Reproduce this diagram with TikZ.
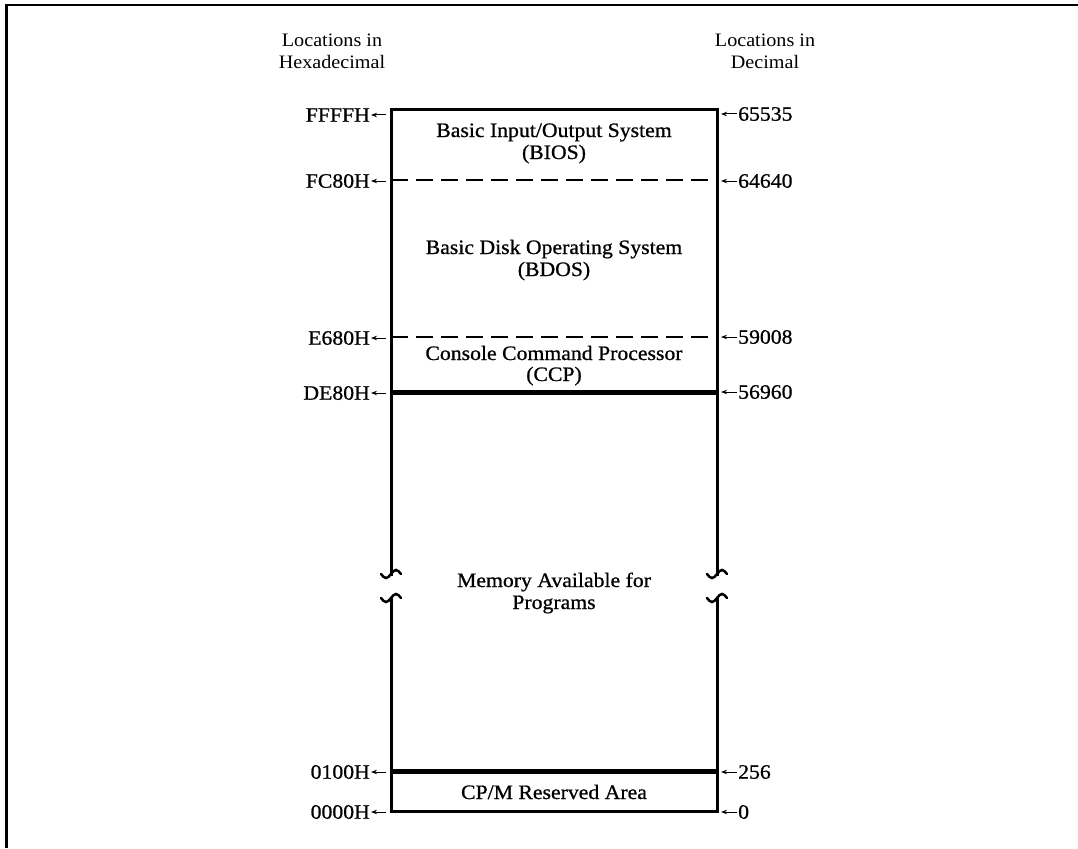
\documentclass[tikz,border=0pt]{standalone}
\usepackage{fontspec}
\setmainfont{Liberation Serif}[FakeStretch=1.06]
\newfontfamily\inkfont{Liberation Serif}[FakeStretch=1.06,FakeBold=0.8]
\usetikzlibrary{arrows.meta}
\tikzset{
  txt/.style={font=\inkfont\fontsize{20.5}{22}\selectfont, inner sep=0pt},
  hdr/.style={font=\fontsize{19}{22}\selectfont, inner sep=0pt},
  ptr/.style={-{Stealth[length=6pt,width=4.5pt]}, line width=1pt},
  frameline/.style={line width=2.5pt},
  boxline/.style={line width=3pt, line cap=rect},
  heavysep/.style={line width=5pt},
  dashsep/.style={line width=2.5pt, dash pattern=on 17pt off 8pt},
  brk/.style={line width=2.5pt, line cap=round}
}
\begin{document}
\begin{tikzpicture}[x=1pt,y=-1pt]
\useasboundingbox (0,0) rectangle (1078,848);
% frame
\draw[frameline] (6.5,848) -- (6.5,5) -- (1078,5);
% headers
\node[hdr, anchor=base] (hl1) at (332,47) {Locations in};
\node[hdr, anchor=base] (hl2) at (332,69) {Hexadecimal};
\node[hdr, anchor=base] (hr1) at (765,47) {Locations in};
\node[hdr, anchor=base] (hr2) at (765,69) {Decimal};
% box corners
\coordinate (TL) at (391,110);
\coordinate (TR) at (717,110);
\coordinate (BL) at (391,811);
\coordinate (BR) at (717,811);
\coordinate (L1) at (391,574);
\coordinate (L2) at (391,598);
\coordinate (R1) at (717,574);
\coordinate (R2) at (717,598);
% box outline
\draw[boxline] (TL) -- (TR);
\draw[boxline] (TL) -- (L1);
\draw[boxline] (L2) -- (BL) -- (BR) -- (R2);
\draw[boxline] (R1) -- (TR);
% break marks
\draw[brk] ([xshift=-10pt]L1) sin ([xshift=-5pt,yshift=-4pt]L1) cos (L1) sin ([xshift=5pt,yshift=4pt]L1) cos ([xshift=10pt]L1);
\draw[brk] ([xshift=-10pt]L2) sin ([xshift=-5pt,yshift=-4pt]L2) cos (L2) sin ([xshift=5pt,yshift=4pt]L2) cos ([xshift=10pt]L2);
\draw[brk] ([xshift=-10pt]R1) sin ([xshift=-5pt,yshift=-4pt]R1) cos (R1) sin ([xshift=5pt,yshift=4pt]R1) cos ([xshift=10pt]R1);
\draw[brk] ([xshift=-10pt]R2) sin ([xshift=-5pt,yshift=-4pt]R2) cos (R2) sin ([xshift=5pt,yshift=4pt]R2) cos ([xshift=10pt]R2);
% separators
\draw[dashsep] (391,180) -- (717,180);
\draw[dashsep] (391,337) -- (717,337);
\draw[heavysep] (391,392) -- (717,392);
\draw[heavysep] (391,771) -- (717,771);
% region texts
\node[txt, anchor=base] (bios1) at (554,137) {Basic Input/Output System};
\node[txt, anchor=base] (bios2) at (554,159) {(BIOS)};
\node[txt, anchor=base] (bdos1) at (554,254) {Basic Disk Operating System};
\node[txt, anchor=base] (bdos2) at (554,276) {(BDOS)};
\node[txt, anchor=base] (ccp1) at (554,360) {Console Command Processor};
\node[txt, anchor=base] (ccp2) at (554,381) {(CCP)};
\node[txt, anchor=base] (mem1) at (554,587) {Memory Available for};
\node[txt, anchor=base] (mem2) at (554,609) {Programs};
\node[txt, anchor=base] (res) at (554,799) {CP/M Reserved Area};
% left labels
\node[txt, anchor=east] (hFFFF) at (370,115) {FFFFH};
\node[txt, anchor=east] (hFC80) at (370,181) {FC80H};
\node[txt, anchor=east] (hE680) at (370,338) {E680H};
\node[txt, anchor=east] (hDE80) at (370,393) {DE80H};
\node[txt, anchor=east] (h0100) at (370,772) {0100H};
\node[txt, anchor=east] (h0000) at (370,812) {0000H};
\coordinate (aFFFF) at (386,115);
\coordinate (aFC80) at (386,181);
\coordinate (aE680) at (386,338);
\coordinate (aDE80) at (386,393);
\coordinate (a0100) at (386,772);
\coordinate (a0000) at (386,812);
\draw[ptr] (aFFFF) -- ([xshift=1pt]hFFFF.east);
\draw[ptr] (aFC80) -- ([xshift=1pt]hFC80.east);
\draw[ptr] (aE680) -- ([xshift=1pt]hE680.east);
\draw[ptr] (aDE80) -- ([xshift=1pt]hDE80.east);
\draw[ptr] (a0100) -- ([xshift=1pt]h0100.east);
\draw[ptr] (a0000) -- ([xshift=1pt]h0000.east);
% right labels
\node[txt, anchor=west] (d65535) at (738,114) {65535};
\node[txt, anchor=west] (d64640) at (738,181) {64640};
\node[txt, anchor=west] (d59008) at (738,337) {59008};
\node[txt, anchor=west] (d56960) at (738,392) {56960};
\node[txt, anchor=west] (d256) at (738,772) {256};
\node[txt, anchor=west] (d0) at (738,812) {0};
\coordinate (b65535) at (721,114);
\coordinate (b64640) at (721,181);
\coordinate (b59008) at (721,337);
\coordinate (b56960) at (721,392);
\coordinate (b256) at (721,772);
\coordinate (b0) at (721,812);
\draw[ptr] ([xshift=-1pt]d65535.west) -- (b65535);
\draw[ptr] ([xshift=-1pt]d64640.west) -- (b64640);
\draw[ptr] ([xshift=-1pt]d59008.west) -- (b59008);
\draw[ptr] ([xshift=-1pt]d56960.west) -- (b56960);
\draw[ptr] ([xshift=-1pt]d256.west) -- (b256);
\draw[ptr] ([xshift=-1pt]d0.west) -- (b0);
\end{tikzpicture}
\end{document}
